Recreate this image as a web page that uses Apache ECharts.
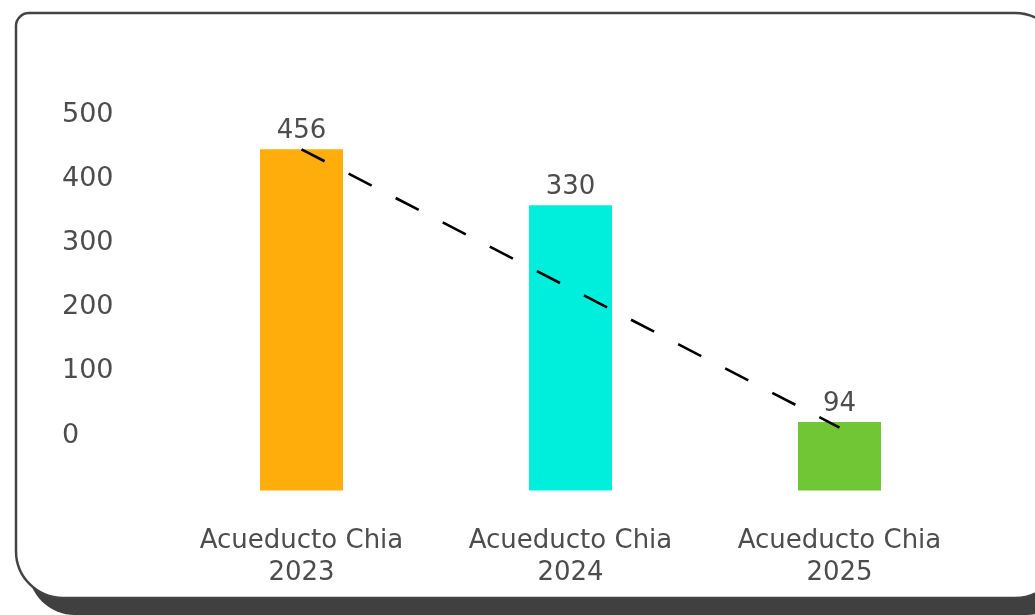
<!DOCTYPE html>
<html>
<head>
<meta charset="utf-8">
<script src="https://cdn.jsdelivr.net/npm/echarts@6/dist/echarts.min.js"></script>
<style>
html,body{margin:0;padding:0;background:#fff;}
#chart{width:1035px;height:615px;}
</style>
</head>
<body>
<div id="chart"></div>
<script>
const categories = ['Acueducto Chia\n2023', 'Acueducto Chia\n2024', 'Acueducto Chia\n2025'];
const values = [456, 330, 94];
const barColors = ['#FFAD0B', '#00EFDD', '#71C635'];
const yTickLabels = [0, 100, 200, 300, 400, 500];
const trendStart = 456;
const trendEnd = 91;

const FONT = '"DejaVu Sans", sans-serif';
const TXT = '#4d4d4d';
const W = 'normal';

const chart = echarts.init(document.getElementById('chart'), null, {renderer: 'canvas'});
const cardShape = {x: 16, y: 13, width: 1045, height: 585, r: [13, 46, 46, 47]};

chart.setOption({
  animation: false,
  backgroundColor: '#ffffff',
  graphic: [
    {type: 'rect', z: -10, silent: true,
     shape: Object.assign({}, cardShape, {x: 28, y: 30}),
     style: {fill: '#404040'}},
    {type: 'rect', z: -9, silent: true,
     shape: cardShape,
     style: {fill: '#ffffff', stroke: '#444444', lineWidth: 2.5}}
  ],
  grid: [
    {left: 167, right: 61, top: 100, bottom: 124.5},
    {left: 130, right: 61, top: 115, bottom: 179.5}
  ],
  xAxis: [
    {type: 'category', gridIndex: 0, data: categories,
     axisLine: {show: false}, axisTick: {show: false}, splitLine: {show: false},
     axisLabel: {margin: 35, fontFamily: FONT, fontSize: 26, lineHeight: 32, color: TXT, fontWeight: W}},
    {type: 'value', gridIndex: 1, show: false}
  ],
  yAxis: [
    {type: 'log', gridIndex: 0, min: 63.2, max: 606.7, show: false},
    {type: 'value', gridIndex: 1, min: 0, max: 500, interval: 100,
     axisLine: {show: false}, axisTick: {show: false}, splitLine: {show: false},
     axisLabel: {align: 'left', margin: 68, fontFamily: FONT, fontSize: 27, color: TXT, fontWeight: W,
       formatter: v => yTickLabels.includes(v) ? String(v) : ''}}
  ],
  series: [
    {type: 'bar', xAxisIndex: 0, yAxisIndex: 0, clip: true, barWidth: 83,
     data: values.map((v, i) => ({value: v, itemStyle: {color: barColors[i]}})),
     label: {show: true, position: 'top', distance: 5, fontFamily: FONT, fontSize: 26, color: TXT, fontWeight: W},
     emphasis: {disabled: true},
     markLine: {
       silent: true, symbol: ['none', 'none'], label: {show: false},
       lineStyle: {color: '#000000', width: 2.6, type: [26, 27]},
       data: [[{coord: [0, trendStart]}, {coord: [2, trendEnd]}]]
     }}
  ]
});
</script>
</body>
</html>
